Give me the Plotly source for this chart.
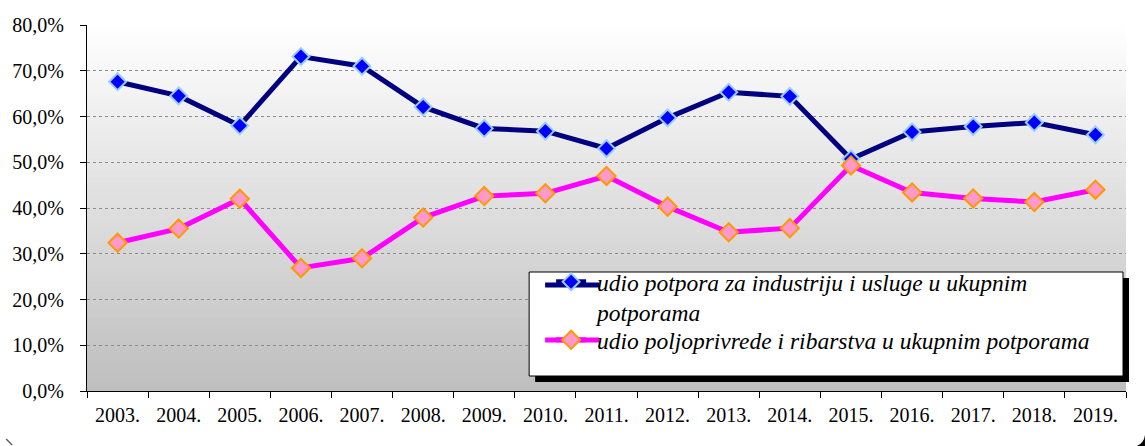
import plotly.graph_objects as go

years = ["2003.", "2004.", "2005.", "2006.", "2007.", "2008.", "2009.", "2010.", "2011.",
         "2012.", "2013.", "2014.", "2015.", "2016.", "2017.", "2018.", "2019."]
industry = [0.676, 0.645, 0.580, 0.731, 0.710, 0.621, 0.574, 0.568, 0.530,
            0.597, 0.653, 0.644, 0.507, 0.566, 0.578, 0.587, 0.560]
agri = [0.324, 0.355, 0.420, 0.269, 0.290, 0.379, 0.426, 0.432, 0.470,
        0.403, 0.347, 0.356, 0.493, 0.434, 0.421, 0.413, 0.440]
name_ind = "&nbsp;udio potpora za industriju i usluge u ukupnim<br>&nbsp;potporama"
name_agr = "&nbsp;udio poljoprivrede i ribarstva u ukupnim potporama"

W, H = 1145, 446
L, R, T, B = 85, 19, 25, 55
pw, ph = W - L - R, H - T - B
FONT = "Liberation Serif"
IND_LINE, IND_FILL, IND_EDGE = "#000080", "#0000ff", "#99ccff"
AGR_LINE, AGR_FILL, AGR_EDGE = "#ff00ff", "#ff99cc", "#ff9900"

def px(x):
    return (x - L) / pw

def py(y):
    return (H - B - y) / ph

fig = go.Figure()
fig.add_trace(go.Scatter(
    x=years, y=industry, name=name_ind, mode="lines+markers", legend="legend",
    line=dict(color=IND_LINE, width=5),
    marker=dict(symbol="diamond", size=13, color=IND_FILL,
                line=dict(color=IND_EDGE, width=2)),
))
fig.add_trace(go.Scatter(
    x=years, y=agri, name=name_agr, mode="lines+markers", legend="legend2",
    line=dict(color=AGR_LINE, width=5),
    marker=dict(symbol="diamond", size=14, color=AGR_FILL,
                line=dict(color=AGR_EDGE, width=2)),
))

shapes = []
n = 60
for i in range(n):
    t = (i + 0.5) / n
    v = int(round(255 - (255 - 190) * t))
    shapes.append(dict(type="rect", xref="paper", yref="paper",
                       x0=0, x1=1, y0=1 - (i + 1) / n, y1=1 - i / n + 0.002,
                       fillcolor=f"rgb({v},{v},{v})", line=dict(width=0),
                       layer="below"))
# legend shadow and box
shapes.append(dict(type="rect", xref="paper", yref="paper",
                   x0=px(534), x1=px(1129), y0=py(382), y1=py(278),
                   fillcolor="black", line=dict(width=0), layer="above"))
shapes.append(dict(type="rect", xref="paper", yref="paper",
                   x0=px(528), x1=px(1123), y0=py(376), y1=py(272),
                   fillcolor="white", line=dict(color="black", width=1), layer="above"))
# longer legend sample lines
for yy, col in ((285, IND_LINE), (340, AGR_LINE)):
    shapes.append(dict(type="line", xref="paper", yref="paper",
                       x0=px(544), x1=px(598), y0=py(yy), y1=py(yy),
                       line=dict(color=col, width=5), layer="above"))
# outer frame corner fragments
shapes.append(dict(type="line", xref="paper", yref="paper",
                   x0=px(4), y0=py(439), x1=px(10), y1=py(445),
                   line=dict(color="#606060", width=1.5), layer="above"))
shapes.append(dict(type="path", xref="paper", yref="paper",
                   path=(f"M {px(1137)},{py(446)} Q {px(1144)},{py(443)} {px(1145)},{py(435)} "
                         f"L {px(1145)},{py(446)} Z"),
                   fillcolor="black", line=dict(width=0), layer="above"))

legend_common = dict(xanchor="left", yanchor="top", bgcolor="rgba(0,0,0,0)", borderwidth=0,
                     font=dict(family=FONT, size=23.5, style="italic", color="black"),
                     tracegroupgap=0, itemwidth=30, valign="top")

fig.update_layout(
    width=W, height=H,
    margin=dict(l=L, r=R, t=T, b=B),
    paper_bgcolor="white", plot_bgcolor="rgba(0,0,0,0)",
    separators=",.",
    font=dict(family=FONT, size=20, color="black"),
    showlegend=True,
    legend=dict(x=px(550), y=py(260), **legend_common),
    legend2=dict(x=px(550), y=py(318), **legend_common),
    shapes=shapes,
)
fig.update_xaxes(type="category", range=[-0.5, 16.5], tickson="boundaries",
                 ticks="outside", ticklen=6, tickcolor="black",
                 showline=True, linecolor="black", linewidth=1,
                 showgrid=False, ticklabelstandoff=6)
fig.update_yaxes(range=[0, 0.8], dtick=0.1, tickformat=".1%",
                 ticks="outside", ticklen=6, tickcolor="black",
                 showline=True, linecolor="black", linewidth=1,
                 showgrid=True, gridcolor="#8c8c8c", gridwidth=1, griddash="dot",
                 zeroline=False, ticklabelstandoff=12)

fig.write_html("out.html", config={"displayModeBar": False},
               post_script="document.body.style.margin='0';")
